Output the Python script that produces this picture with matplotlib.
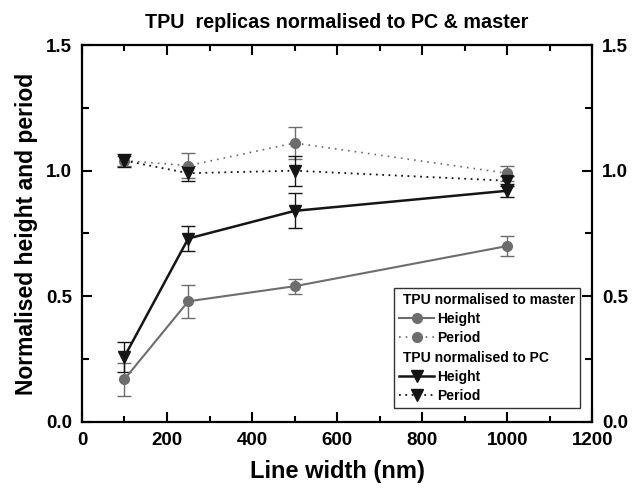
import matplotlib.pyplot as plt
from matplotlib.lines import Line2D
from matplotlib.ticker import MultipleLocator

plt.rcParams["font.family"] = ["Liberation Sans", "DejaVu Sans"]
plt.rcParams["font.weight"] = "bold"

line_width = [100, 250, 500, 1000]

master_height = [0.17, 0.48, 0.54, 0.70]
master_height_err = [0.065, 0.065, 0.03, 0.04]
master_period = [1.04, 1.02, 1.11, 0.99]
master_period_err = [0.02, 0.05, 0.065, 0.03]

pc_height = [0.26, 0.73, 0.84, 0.92]
pc_height_err = [0.06, 0.05, 0.07, 0.025]
pc_period = [1.04, 0.99, 1.00, 0.96]
pc_period_err = [0.025, 0.03, 0.06, 0.02]

GRAY = "#6d6d6d"
BLACK = "#151515"

fig = plt.figure(figsize=(6.33, 4.9), dpi=100)
ax = fig.add_axes([0.1295, 0.139, 0.806, 0.769])

common = dict(capsize=5, elinewidth=1.0, capthick=1.0)
ax.errorbar(line_width, master_height, yerr=master_height_err, color=GRAY,
            ls="-", lw=1.5, marker="o", ms=7, **common)
ax.errorbar(line_width, master_period, yerr=master_period_err, color=GRAY,
            ls=(0, (1, 3)), lw=1.2, marker="o", ms=7, **common)
ax.errorbar(line_width, pc_height, yerr=pc_height_err, color=BLACK,
            ls="-", lw=1.8, marker="v", ms=8, **common)
ax.errorbar(line_width, pc_period, yerr=pc_period_err, color=BLACK,
            ls=(0, (1, 2.5)), lw=1.3, marker="v", ms=8, **common)

ax.set_xlim(0, 1200)
ax.set_ylim(0, 1.5)
ax.xaxis.set_major_locator(MultipleLocator(200))
ax.xaxis.set_minor_locator(MultipleLocator(100))
ax.yaxis.set_major_locator(MultipleLocator(0.5))
ax.yaxis.set_minor_locator(MultipleLocator(0.25))
ax.tick_params(which="both", direction="in", top=True, right=True,
               labelright=True, labelsize=13.5, width=1.5)
ax.tick_params(which="major", length=7, pad=7)
ax.tick_params(axis="x", which="minor", length=4)
ax.tick_params(axis="y", which="minor", length=5)
ax.yaxis.set_major_formatter(plt.FuncFormatter(lambda v, p: f"{v:.1f}"))
for s in ax.spines.values():
    s.set_linewidth(1.6)

ax.set_xlabel("Line width (nm)", fontsize=17, fontweight="bold", labelpad=8)
ax.set_ylabel("Normalised height and period", fontsize=16.5,
              fontweight="bold", labelpad=6)
ax.set_title("TPU  replicas normalised to PC & master", fontsize=14.2,
             fontweight="bold", pad=12)

blank = Line2D([], [], ls="none")
handles = [
    blank,
    Line2D([], [], color=GRAY, ls="-", lw=1.5, marker="o", ms=7),
    Line2D([], [], color=GRAY, ls=(0, (1, 3)), lw=1.2, marker="o", ms=7),
    blank,
    Line2D([], [], color=BLACK, ls="-", lw=1.8, marker="v", ms=8),
    Line2D([], [], color=BLACK, ls=(0, (1, 2.5)), lw=1.3, marker="v", ms=8),
]
labels = ["TPU normalised to master", "Height", "Period",
          "TPU normalised to PC", "Height", "Period"]
leg = ax.legend(handles, labels, loc="lower right", fontsize=10,
                frameon=True, fancybox=False, edgecolor="black",
                bbox_to_anchor=(0.976, 0.037), borderaxespad=0,
                handlelength=2.5, handletextpad=0.25,
                labelspacing=0.38, borderpad=0.35)
leg.get_frame().set_linewidth(1.0)
rows = leg._legend_handle_box.get_children()[0].get_children()
for i in (0, 3):
    rows[i].get_children()[0].set_width(0)

fig.savefig("out.png", dpi=100)
